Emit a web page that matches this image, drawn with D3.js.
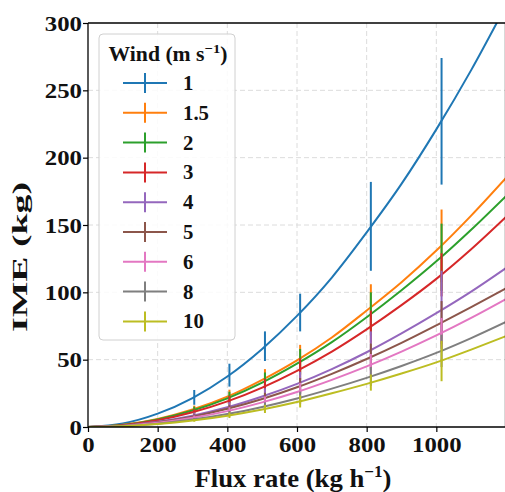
<!DOCTYPE html>
<html><head><meta charset="utf-8">
<script src="https://cdn.jsdelivr.net/npm/d3@7/dist/d3.min.js"></script>
<style>body{margin:0;background:#fff}svg{display:block}</style>
</head><body>
<svg id="c" width="505" height="492"></svg>
<script>
// ---- data ----
const winds = ["1","1.5","2","3","4","5","6","8","10"];
const colors = ["#1f77b4","#ff7f0e","#2ca02c","#d62728","#9467bd","#8c564b","#e377c2","#7f7f7f","#bcbd22"];
const curveX = [0,100,200,300,400,500,600,700,800,900,1000,1100,1200];
const curve1   = [0,2.6,9.9,21.5,37.5,58,82.5,111,144.5,180.5,221,265,313];
const curve1_5 = [0,1.6,6,13,22.5,35,49.5,66.5,86.5,107.5,131,157,185];
const curve2   = [0,1.5,5.6,12.2,21.3,33,47,63,81.5,101.5,123,146.5,171.5];
const curve3   = [0,1.3,5,10.9,19,29.3,41.7,56,72.5,90.5,110,132,156];
const curve4   = [0,1,3.9,8.4,14.6,22.6,32,43,55.5,69.5,84.5,100.5,118];
const curve5   = [0,0.95,3.6,7.7,13.5,20.8,29.5,39.5,50.5,62.5,75.5,89,103];
const curve6   = [0,0.8,3.1,6.8,11.8,18.3,26,35,45,56,68,81,95];
const curve8   = [0,0.7,2.5,5.5,9.6,14.9,21.2,28.5,36.5,45.3,55,66,78];
const curve10  = [0,0.6,2.2,4.8,8.4,13,18.5,25,32,39.7,48,57.5,67.5];
const fluxObs = [305,406,508,609,812,1015];
const mean1   = [22,38.5,60,85,149,227];       const err1   = [5.5,8.5,11,14,33,47];
const mean1_5 = [13.4,23.2,36,51,89,134.5];    const err1_5 = [2.5,4.5,7,10,17,27];
const mean2   = [12.6,22,34,48.4,84,126];      const err2   = [2.5,4.2,6.5,9.5,16,25];
const mean3   = [11.2,19.6,30.2,43,74.5,113];  const err3   = [2,3.5,5.5,8,12,16];
const mean4   = [8.7,15,23.3,33,57,87];        const err4   = [2,3.5,5.5,8,14,29];
const mean5   = [7.9,13.9,21.4,30.4,52,77.5];  const err5   = [1.5,2.5,4,6,10,16];
const mean6   = [7,12.2,18.8,26.8,46.2,70];    const err6   = [1.5,2.5,4,6,8,11];
const mean8   = [5.7,9.9,15.3,21.8,37.5,56.5]; const err8   = [1,2,3,4.5,7,12];
const mean10  = [4.9,8.7,13.4,19,33,49];       const err10  = [1,2,3,4.5,6,15];
const xTicks = [0,200,400,600,800,1000];
const yTicks = [0,50,100,150,200,250,300];

const curves = [curve1,curve1_5,curve2,curve3,curve4,curve5,curve6,curve8,curve10];
const means = [mean1,mean1_5,mean2,mean3,mean4,mean5,mean6,mean8,mean10];
const errs = [err1,err1_5,err2,err3,err4,err5,err6,err8,err10];

// ---- layout ----
const svg = d3.select("#c");
const L=88, R=506, T=23, B=427;
const x = d3.scaleLinear().domain([0,1200]).range([L,R]);
const y = d3.scaleLinear().domain([0,300]).range([B,T]);
const font = "'Liberation Serif','Times New Roman',serif";

svg.append("defs").append("clipPath").attr("id","clip")
  .append("rect").attr("x",L).attr("y",T).attr("width",R-L).attr("height",B-T);

// grid
const g = svg.append("g");
g.selectAll(".gx").data(xTicks.filter(d=>d>0)).enter().append("line")
  .attr("x1",d=>x(d)).attr("x2",d=>x(d)).attr("y1",T).attr("y2",B)
  .attr("stroke","#dcdcdc").attr("stroke-width",1).attr("stroke-dasharray","5,3");
g.selectAll(".gy").data(yTicks.filter(d=>d>0&&d<300)).enter().append("line")
  .attr("y1",d=>y(d)).attr("y2",d=>y(d)).attr("x1",L).attr("x2",R)
  .attr("stroke","#dcdcdc").attr("stroke-width",1).attr("stroke-dasharray","5,3");

// series
const plot = svg.append("g").attr("clip-path","url(#clip)");
const line = d3.line().x((d,i)=>x(curveX[i])).y(d=>y(d)).curve(d3.curveMonotoneX);
curves.forEach((c,k)=>{
  plot.append("path").attr("d",line(c)).attr("fill","none")
    .attr("stroke",colors[k]).attr("stroke-width",2);
  plot.selectAll(null).data(fluxObs).enter().append("line")
    .attr("x1",d=>x(d)).attr("x2",d=>x(d))
    .attr("y1",(d,i)=>y(means[k][i]-errs[k][i]))
    .attr("y2",(d,i)=>y(means[k][i]+errs[k][i]))
    .attr("stroke",colors[k]).attr("stroke-width",2);
});

// axes
const xa = svg.append("g").attr("transform",`translate(0,${B})`)
  .call(d3.axisBottom(x).tickValues(xTicks).tickSize(5).tickPadding(4).tickFormat(d3.format("d")));
const ya = svg.append("g").attr("transform",`translate(${L},0)`)
  .call(d3.axisLeft(y).tickValues(yTicks).tickSize(5).tickPadding(1).tickFormat(d3.format("d")));
[xa,ya].forEach(a=>{
  a.select(".domain").remove();
  a.selectAll(".tick line").attr("stroke","#000").attr("stroke-width",1.2);
  a.selectAll("text").attr("font-family",font).attr("font-weight","bold")
    .attr("font-size",22).attr("fill","#111")
    .attr("lengthAdjust","spacingAndGlyphs")
    .attr("textLength",function(){return this.textContent.length*12.4;});
});
// spines
svg.append("line").attr("x1",L).attr("x2",L).attr("y1",T).attr("y2",B).attr("stroke","#000").attr("stroke-width",1.3);
svg.append("line").attr("x1",L).attr("x2",R).attr("y1",B).attr("y2",B).attr("stroke","#000").attr("stroke-width",1.3);
svg.append("line").attr("x1",L).attr("x2",R).attr("y1",T).attr("y2",T).attr("stroke","#000").attr("stroke-width",1.3);
svg.append("line").attr("x1",R-0.5).attr("x2",R-0.5).attr("y1",T).attr("y2",B).attr("stroke","#000").attr("stroke-width",1.3);

// helper: stretch text horizontally to a target width around an anchor x
function fitX(sel, ax, target){
  const w = sel.node().getBBox().width;
  const s = target / w;
  sel.attr("transform",`translate(${ax},0) scale(${s},1) translate(${-ax},0)`);
}

// axis labels
const xlx = (L+R)/2-4;
const xl = svg.append("text").attr("x",xlx).attr("y",487).attr("text-anchor","middle")
  .attr("font-family",font).attr("font-weight","bold").attr("font-size",25).attr("fill","#111");
xl.append("tspan").text("Flux rate (kg h");
xl.append("tspan").text("\u22121").attr("font-size",16).attr("dy",-10);
xl.append("tspan").text(")").attr("dy",10);
fitX(xl, xlx, 197);

const yl = svg.append("text").attr("x",0).attr("y",0).attr("text-anchor","middle")
  .attr("font-family",font).attr("font-weight","bold").attr("font-size",22).attr("fill","#111")
  .text("IME (kg)");
const ylw = yl.node().getBBox().width;
yl.attr("transform",`translate(27,257) rotate(-90) scale(${150/ylw},1)`);

// legend
const lg = svg.append("g");
lg.append("rect").attr("x",99).attr("y",34).attr("width",136).attr("height",306).attr("rx",4)
  .attr("fill","#fff").attr("fill-opacity",0.85).attr("stroke","#d0d0d0").attr("stroke-width",1);
const lt = lg.append("text").attr("x",168).attr("y",61).attr("text-anchor","middle")
  .attr("font-family",font).attr("font-weight","bold").attr("font-size",20).attr("fill","#111");
lt.append("tspan").text("Wind (m s");
lt.append("tspan").text("\u22121").attr("font-size",13.5).attr("dy",-8);
lt.append("tspan").text(")").attr("dy",8);
fitX(lt, 168, 119);

const labs = [];
winds.forEach((w,k)=>{
  const cy = 83 + k*29.8;
  lg.append("line").attr("x1",123).attr("x2",167).attr("y1",cy).attr("y2",cy)
    .attr("stroke",colors[k]).attr("stroke-width",2);
  lg.append("line").attr("x1",145).attr("x2",145).attr("y1",cy-10).attr("y2",cy+10)
    .attr("stroke",colors[k]).attr("stroke-width",2);
  labs.push(lg.append("text").attr("x",183).attr("y",cy+7).attr("font-family",font).attr("font-weight","bold")
    .attr("font-size",21).attr("fill","#111").text(w));
});
const w15 = labs[1].node().getBBox().width;
const sl = 26 / w15;
labs.forEach(t=>t.attr("transform",`translate(183,0) scale(${sl},1) translate(-183,0)`));
</script>
</body></html>
